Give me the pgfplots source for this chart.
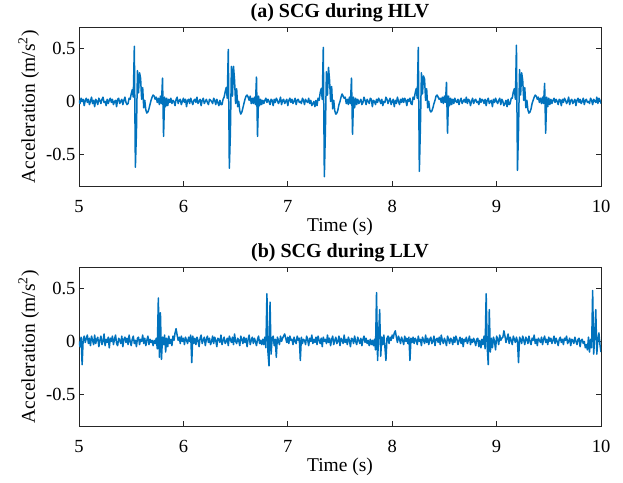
\documentclass[border=0pt]{standalone}
\usepackage{pgfplots}
\pgfplotsset{compat=1.18}
\usepackage{fontspec}
\setmainfont{Liberation Serif}
\newcommand\ft{\fontsize{18.5}{21}\selectfont}
\newcommand\fl{\fontsize{19.5}{22}\selectfont}
\newcommand\fti{\fontsize{20}{23}\selectfont}
\definecolor{mblue}{RGB}{0,114,189}
\definecolor{axgray}{RGB}{38,38,38}
\pgfplotsset{myax/.style={
  scale only axis, width=522pt, height=159pt,
  xmin=5, xmax=10, ymin=-0.8, ymax=0.7,
  xtick={5,6,7,8,9,10}, xticklabels={5,6,7,8,9,10},
  ytick={-0.5,0,0.5}, yticklabels={-0.5,0,0.5},
  tick align=inside, major tick length=5pt,
  axis line style={color=axgray, line width=0.7pt},
  every tick/.style={color=axgray, line width=0.7pt},
  tick label style={font=\ft},
  xticklabel style={anchor=base, yshift=-26pt},
  label style={font=\fl},
  title style={font=\fti\bfseries, at={(axis description cs:0.5,1)}, anchor=base, yshift=4pt},
  xlabel={Time (s)},
  xlabel style={at={(axis description cs:0.5,0)}, anchor=base, yshift=-45pt},
  ylabel={Acceleration (m/s\textsuperscript{2})},
  ylabel style={at={(axis description cs:-0.0843,0.5)}, anchor=base},
  clip=true,
}}
\begin{document}
\begin{tikzpicture}
\path (-79pt,-56pt) rectangle (544pt,423pt);
\begin{axis}[myax, at={(0,240pt)}, anchor=south west, title={(a) SCG during HLV}]
\addplot[mblue, line width=1.5pt, line join=round] table[x expr=5+0.01*\coordindex, y index=0, header=false, row sep=\\] {
0.01\\-0.02\\0.03\\0.00\\0.02\\-0.04\\0.01\\0.03\\-0.01\\0.02\\
-0.03\\0.00\\0.04\\-0.02\\0.01\\-0.05\\0.02\\0.00\\-0.03\\0.03\\
0.01\\-0.02\\0.02\\0.04\\-0.01\\0.00\\-0.04\\0.02\\-0.02\\0.01\\
0.03\\-0.01\\0.02\\-0.03\\0.00\\0.01\\-0.05\\0.02\\0.03\\-0.02\\
0.00\\0.02\\-0.03\\0.01\\0.04\\-0.01\\-0.03\\
-0.02\\0.03\\0.02\\0.07\\0.11\\0.04\\0.52\\-0.62\\-0.30\\0.29\\
0.08\\0.27\\0.22\\0.02\\0.13\\-0.06\\0.01\\-0.08\\-0.11\\-0.10\\
-0.07\\-0.03\\0.01\\0.04\\0.06\\0.05\\0.02\\0.04\\-0.01\\0.03\\
-0.03\\0.05\\-0.02\\0.22\\-0.33\\0.04\\-0.05\\0.03\\-0.04\\0.02\\
-0.01\\0.03\\-0.02\\0.01\\0.00\\-0.04\\0.02\\0.04\\-0.02\\0.01\\
0.02\\-0.03\\0.00\\0.03\\-0.01\\0.02\\-0.05\\0.01\\0.02\\-0.02\\
0.03\\0.00\\-0.03\\0.01\\0.02\\-0.01\\0.04\\-0.02\\0.00\\0.02\\
-0.04\\0.01\\0.03\\-0.02\\0.00\\0.02\\-0.01\\-0.03\\0.02\\0.01\\
0.00\\-0.02\\0.03\\0.01\\-0.03\\0.02\\-0.01\\-0.04\\0.01\\-0.03\\
-0.03\\0.02\\0.04\\0.09\\0.13\\0.03\\0.49\\-0.63\\-0.30\\0.33\\
0.05\\0.33\\0.20\\-0.02\\0.12\\-0.05\\0.00\\-0.09\\-0.12\\-0.10\\
-0.06\\-0.02\\0.02\\0.05\\0.06\\0.04\\0.01\\0.05\\-0.02\\0.03\\
-0.02\\0.04\\-0.03\\0.23\\-0.33\\0.05\\-0.04\\0.02\\-0.03\\0.01\\
-0.02\\0.01\\0.03\\-0.01\\0.02\\0.00\\-0.03\\0.02\\0.01\\-0.04\\
0.02\\-0.01\\0.03\\0.01\\-0.02\\0.00\\0.04\\-0.03\\0.01\\0.02\\
-0.02\\0.00\\0.02\\-0.04\\0.01\\0.03\\-0.01\\0.02\\-0.02\\0.00\\
0.03\\-0.03\\0.01\\0.02\\-0.01\\0.00\\-0.02\\0.03\\0.01\\-0.03\\
0.02\\0.00\\-0.01\\0.03\\-0.02\\0.01\\-0.04\\-0.02\\0.00\\-0.05\\0.01\\
-0.04\\0.03\\0.01\\0.08\\0.12\\0.02\\0.51\\-0.71\\-0.28\\0.28\\
0.06\\0.32\\0.20\\0.00\\0.14\\-0.07\\0.01\\-0.09\\-0.12\\-0.11\\
-0.08\\-0.03\\0.00\\0.04\\0.07\\0.05\\0.03\\0.04\\-0.02\\0.02\\
-0.03\\0.04\\-0.02\\0.22\\-0.31\\0.04\\-0.06\\0.03\\-0.03\\0.02\\
-0.02\\0.00\\0.02\\-0.03\\-0.01\\0.04\\0.01\\-0.03\\0.02\\0.00\\
-0.02\\0.03\\0.02\\-0.05\\0.01\\0.00\\-0.03\\0.02\\-0.01\\0.03\\
0.01\\-0.02\\0.02\\-0.04\\0.00\\-0.01\\0.04\\0.02\\-0.02\\0.01\\
0.03\\-0.03\\0.00\\0.02\\-0.05\\0.01\\-0.02\\0.04\\0.00\\-0.03\\
0.02\\-0.01\\0.03\\-0.01\\0.03\\0.01\\-0.04\\0.02\\0.00\\0.03\\-0.02\\
-0.03\\0.04\\0.02\\0.08\\0.12\\0.03\\0.51\\-0.66\\-0.25\\0.27\\
0.07\\0.24\\0.21\\0.01\\0.12\\-0.06\\0.00\\-0.08\\-0.10\\-0.09\\
-0.06\\-0.02\\0.01\\0.05\\0.06\\0.04\\0.02\\0.03\\-0.01\\0.04\\
-0.02\\0.05\\-0.01\\0.18\\-0.30\\0.05\\-0.04\\0.03\\-0.03\\0.02\\
-0.02\\0.03\\0.00\\-0.01\\0.02\\-0.03\\0.01\\0.03\\-0.02\\0.00\\
0.02\\-0.01\\0.04\\-0.02\\0.02\\0.01\\-0.04\\0.00\\0.03\\-0.02\\
0.01\\0.02\\-0.01\\0.00\\-0.03\\0.03\\-0.01\\0.02\\0.01\\-0.02\\
0.02\\-0.04\\0.01\\0.03\\-0.02\\0.00\\0.01\\-0.05\\0.02\\-0.01\\
0.03\\0.00\\-0.02\\0.01\\0.03\\-0.03\\0.02\\0.00\\-0.04\\-0.02\\
0.01\\-0.05\\0.02\\-0.03\\
-0.02\\0.03\\0.03\\0.09\\0.12\\0.02\\0.53\\-0.65\\-0.27\\0.30\\
0.06\\0.27\\0.20\\0.01\\0.13\\-0.06\\0.01\\-0.08\\-0.11\\-0.10\\
-0.07\\-0.02\\0.01\\0.04\\0.06\\0.05\\0.02\\0.04\\-0.01\\0.03\\
-0.02\\0.04\\-0.02\\0.17\\-0.30\\0.04\\-0.05\\0.03\\-0.03\\0.02\\
-0.02\\0.01\\0.03\\-0.01\\0.02\\0.00\\-0.03\\0.02\\0.01\\-0.04\\
0.02\\-0.01\\0.03\\0.01\\-0.02\\0.00\\0.04\\-0.03\\0.01\\0.02\\
-0.02\\0.00\\0.02\\-0.04\\0.01\\0.03\\-0.01\\0.02\\-0.02\\0.00\\
0.03\\-0.03\\0.01\\0.02\\-0.01\\0.00\\-0.02\\0.03\\0.01\\-0.03\\
0.02\\0.00\\-0.01\\0.04\\-0.02\\0.03\\0.01\\-0.02\\
};
\end{axis}
\begin{axis}[myax, at={(0,0)}, anchor=south west, title={(b) SCG during LLV}]
\addplot[mblue, line width=1.5pt, line join=round] table[x expr=5+0.01*\coordindex, y index=0, header=false, row sep=\\] {
0.00\\-0.05\\0.04\\-0.22\\0.02\\0.05\\-0.01\\0.03\\0.06\\-0.02\\
0.03\\-0.04\\0.05\\0.01\\-0.03\\0.06\\-0.02\\0.02\\0.04\\-0.05\\
0.01\\0.05\\-0.03\\0.00\\0.07\\-0.04\\0.02\\-0.01\\0.04\\-0.06\\
0.03\\0.00\\0.05\\-0.03\\0.02\\0.06\\-0.02\\-0.04\\0.03\\0.01\\
-0.02\\0.05\\-0.05\\0.02\\0.04\\-0.01\\0.03\\-0.03\\0.06\\0.00\\
-0.04\\0.02\\0.05\\-0.02\\0.01\\-0.05\\0.03\\0.04\\-0.03\\0.02\\
0.00\\0.06\\-0.02\\0.03\\-0.04\\0.01\\0.05\\-0.03\\0.02\\-0.01\\
0.01\\-0.04\\
0.01\\-0.02\\0.03\\-0.07\\0.41\\-0.15\\0.27\\-0.17\\0.04\\-0.03\\
0.06\\-0.10\\0.03\\-0.05\\0.05\\-0.02\\0.02\\-0.04\\0.05\\0.01\\
0.08\\0.12\\0.06\\0.01\\0.04\\-0.02\\0.05\\0.00\\0.03\\-0.03\\
0.04\\0.01\\-0.02\\0.04\\0.00\\0.06\\-0.20\\0.05\\-0.02\\0.03\\
-0.03\\0.04\\0.01\\-0.05\\0.03\\0.06\\-0.02\\0.01\\0.04\\-0.04\\
0.02\\0.05\\-0.01\\0.03\\-0.03\\0.00\\0.05\\-0.02\\0.04\\0.01\\
-0.05\\0.03\\0.02\\-0.01\\0.06\\-0.03\\0.01\\0.04\\-0.02\\0.00\\
0.03\\-0.04\\0.05\\0.02\\-0.01\\0.04\\-0.03\\0.07\\0.00\\-0.02\\
0.03\\0.01\\-0.04\\0.05\\0.02\\-0.02\\0.04\\-0.01\\0.03\\-0.05\\
0.02\\0.06\\-0.03\\0.01\\0.04\\-0.02\\0.03\\0.00\\-0.04\\0.02\\
0.05\\-0.02\\0.01\\-0.03\\
0.02\\-0.03\\0.04\\-0.06\\0.45\\-0.10\\-0.23\\0.37\\-0.12\\0.03\\
0.05\\-0.04\\0.02\\-0.15\\0.04\\0.01\\-0.03\\0.05\\0.00\\0.03\\
0.05\\0.07\\0.03\\-0.01\\0.04\\-0.02\\0.05\\0.01\\0.02\\-0.03\\
0.04\\0.00\\-0.02\\0.05\\0.01\\0.03\\-0.18\\0.04\\-0.02\\0.02\\
0.01\\-0.03\\0.05\\0.02\\-0.04\\0.03\\0.00\\0.06\\-0.02\\0.02\\
-0.01\\0.04\\-0.03\\0.05\\0.01\\-0.02\\0.03\\-0.05\\0.04\\0.00\\
0.02\\-0.02\\0.06\\-0.01\\0.03\\-0.04\\0.02\\0.05\\-0.03\\0.01\\
0.04\\-0.02\\0.00\\0.05\\-0.04\\0.03\\0.01\\-0.02\\0.06\\-0.01\\
0.02\\-0.03\\0.04\\0.01\\-0.05\\0.03\\0.02\\-0.02\\0.05\\0.00\\
-0.03\\0.04\\0.01\\-0.02\\0.03\\-0.04\\0.02\\0.05\\-0.01\\0.03\\
-0.02\\0.01\\-0.04\\0.02\\-0.03\\
0.01\\-0.04\\0.02\\-0.08\\0.46\\-0.18\\0.05\\0.30\\-0.14\\0.04\\
-0.03\\0.06\\-0.05\\-0.18\\0.03\\0.05\\-0.02\\0.04\\0.01\\0.06\\
0.03\\0.08\\0.10\\0.04\\-0.01\\0.05\\0.02\\-0.02\\0.04\\0.01\\
-0.03\\0.05\\0.00\\0.03\\-0.02\\0.04\\-0.18\\0.03\\-0.01\\0.04\\
-0.02\\0.03\\0.01\\-0.03\\0.05\\0.00\\0.02\\-0.04\\0.04\\0.01\\
-0.02\\0.06\\-0.01\\0.03\\-0.03\\0.02\\0.04\\-0.02\\0.00\\0.05\\
-0.04\\0.02\\0.03\\-0.01\\0.04\\-0.03\\0.06\\0.01\\-0.02\\0.03\\
0.00\\-0.04\\0.05\\0.02\\-0.02\\0.03\\0.01\\-0.03\\0.04\\-0.01\\
0.05\\0.02\\-0.03\\0.01\\0.04\\-0.02\\0.03\\-0.05\\0.02\\0.00\\
0.04\\-0.02\\0.01\\0.05\\-0.03\\0.02\\-0.01\\0.03\\0.00\\-0.04\\
0.02\\0.03\\-0.05\\0.01\\-0.06\\
0.02\\-0.03\\0.05\\-0.07\\0.45\\-0.05\\-0.22\\0.30\\-0.10\\0.03\\
-0.06\\0.04\\0.00\\-0.08\\0.05\\0.02\\-0.03\\0.06\\0.01\\0.03\\
0.04\\0.10\\0.05\\-0.01\\0.03\\0.07\\-0.02\\0.04\\0.01\\-0.03\\
0.05\\0.02\\-0.01\\0.04\\0.00\\-0.20\\0.04\\0.02\\-0.02\\0.05\\
0.01\\-0.03\\0.04\\0.02\\-0.02\\0.05\\0.00\\-0.03\\0.03\\0.01\\
0.06\\-0.02\\0.02\\-0.04\\0.03\\0.01\\-0.01\\0.04\\-0.03\\0.02\\
0.05\\-0.01\\0.02\\-0.03\\0.04\\0.00\\0.03\\-0.02\\0.01\\0.05\\
-0.02\\0.03\\0.00\\-0.04\\0.02\\0.04\\-0.01\\0.02\\-0.03\\0.03\\
0.01\\0.05\\-0.02\\0.00\\0.03\\-0.04\\0.02\\0.01\\-0.02\\0.04\\
0.00\\-0.03\\0.02\\0.03\\-0.05\\0.01\\0.02\\-0.02\\0.00\\-0.06\\
-0.03\\-0.08\\
0.04\\-0.10\\0.02\\-0.06\\0.48\\-0.12\\0.05\\0.30\\-0.12\\0.02\\
0.08\\-0.03\\-0.10\\
};
\end{axis}
\end{tikzpicture}
\end{document}
